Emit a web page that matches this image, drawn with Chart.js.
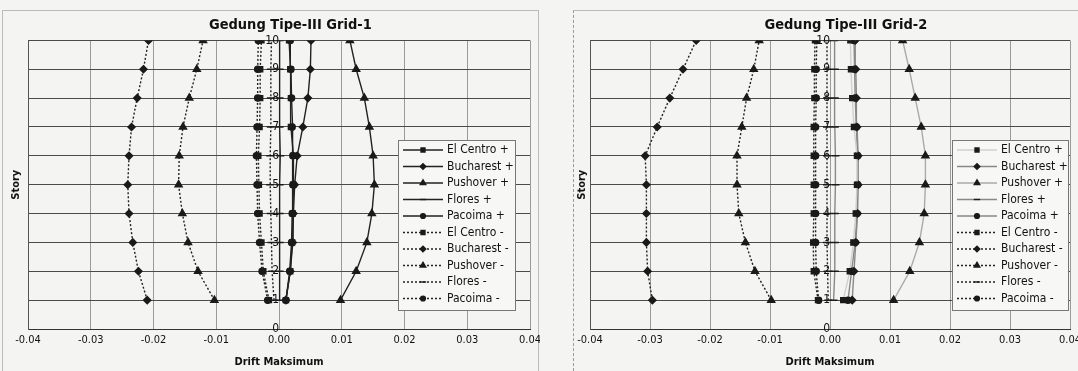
<!DOCTYPE html>
<html>
<head>
<meta charset="utf-8">
<script src="https://cdn.jsdelivr.net/npm/chart.js@4.4.1/dist/chart.umd.min.js"></script>
<style>
  body { margin: 0; width: 1078px; height: 371px; overflow: hidden; position: relative; background: #f4f4f2; }
  .panel { position: absolute; top: 0; }
  .frame { position: absolute; }
</style>
</head>
<body>
<div class="frame" style="left:2px;top:10px;width:535px;height:360px;border:1px solid #bbb"></div>
<div class="frame" style="left:573px;top:10px;width:520px;height:360px;border-left:1px dashed #999;border-top:1px solid #bbb"></div>
<div class="panel" style="left:0"><canvas id="grid1" width="540" height="371"></canvas></div>
<div class="panel" style="left:540px"><canvas id="grid2" width="538" height="371"></canvas></div>
<script>
// lantai (story) 1..10
const stories = [1, 2, 3, 4, 5, 6, 7, 8, 9, 10];
const driftTicks = [-0.04, -0.03, -0.02, -0.01, 0, 0.01, 0.02, 0.03, 0.04];
const seriesNames = ['El Centro +', 'Bucharest +', 'Pushover +', 'Flores +', 'Pacoima +',
                     'El Centro -', 'Bucharest -', 'Pushover -', 'Flores -', 'Pacoima -'];

// Grid-1
const g1ElCentroPos  = [0.0011, 0.0018, 0.0021, 0.0022, 0.0023, 0.0023, 0.0019, 0.0019, 0.0018, 0.0016];
const g1BucharestPos = [0.0011, 0.0018, 0.0022, 0.0023, 0.0025, 0.0029, 0.0038, 0.0046, 0.0050, 0.0051];
const g1PushoverPos  = [0.0098, 0.0123, 0.0140, 0.0148, 0.0152, 0.0150, 0.0144, 0.0136, 0.0123, 0.0113];
const g1FloresPos    = [0.0000, 0.0001, 0.0001, 0.0001, 0.0001, 0.0002, 0.0001, 0.0001, 0.0001, 0.0001];
const g1PacoimaPos   = [0.0011, 0.0017, 0.0020, 0.0021, 0.0022, 0.0022, 0.0021, 0.0020, 0.0019, 0.0018];
const g1ElCentroNeg  = [-0.0016, -0.0025, -0.0028, -0.0031, -0.0032, -0.0033, -0.0031, -0.0030, -0.0030, -0.0028];
const g1BucharestNeg = [-0.0210, -0.0224, -0.0233, -0.0239, -0.0241, -0.0239, -0.0235, -0.0226, -0.0216, -0.0208];
const g1PushoverNeg  = [-0.0103, -0.0129, -0.0145, -0.0154, -0.0160, -0.0159, -0.0153, -0.0143, -0.0131, -0.0121];
const g1FloresNeg    = [-0.0008, -0.0011, -0.0012, -0.0013, -0.0014, -0.0014, -0.0013, -0.0013, -0.0013, -0.0012];
const g1PacoimaNeg   = [-0.0018, -0.0027, -0.0031, -0.0034, -0.0035, -0.0036, -0.0035, -0.0034, -0.0034, -0.0033];

// Grid-2
const g2ElCentroPos  = [0.0022, 0.0033, 0.0039, 0.0043, 0.0045, 0.0045, 0.0040, 0.0037, 0.0035, 0.0034];
const g2BucharestPos = [0.0037, 0.0040, 0.0043, 0.0046, 0.0047, 0.0047, 0.0045, 0.0044, 0.0043, 0.0042];
const g2PushoverPos  = [0.0106, 0.0133, 0.0149, 0.0157, 0.0159, 0.0159, 0.0152, 0.0142, 0.0132, 0.0121];
const g2FloresPos    = [0.0006, 0.0008, 0.0008, 0.0008, 0.0009, 0.0009, 0.0008, 0.0008, 0.0008, 0.0007];
const g2PacoimaPos   = [0.0030, 0.0036, 0.0042, 0.0045, 0.0046, 0.0046, 0.0044, 0.0042, 0.0041, 0.0040];
const g2ElCentroNeg  = [-0.0020, -0.0027, -0.0028, -0.0027, -0.0027, -0.0027, -0.0027, -0.0026, -0.0026, -0.0025];
const g2BucharestNeg = [-0.0296, -0.0304, -0.0306, -0.0306, -0.0306, -0.0308, -0.0288, -0.0267, -0.0245, -0.0223];
const g2PushoverNeg  = [-0.0098, -0.0125, -0.0141, -0.0152, -0.0155, -0.0155, -0.0147, -0.0139, -0.0127, -0.0118];
const g2FloresNeg    = [-0.0003, -0.0004, -0.0005, -0.0005, -0.0005, -0.0005, -0.0005, -0.0005, -0.0005, -0.0005];
const g2PacoimaNeg   = [-0.0019, -0.0023, -0.0024, -0.0024, -0.0024, -0.0024, -0.0024, -0.0023, -0.0023, -0.0022];

const FONT = "'Liberation Sans Narrow', 'DejaVu Sans Condensed', 'Arial Narrow', 'Liberation Sans', Arial, sans-serif";
Chart.defaults.font.family = FONT;
Chart.defaults.color = '#111';

const markers = ['rect', 'rectRot', 'triangle', 'line', 'circle'];
const markerSize = [3.5, 3.5, 4, 4, 3];

function toPoints(vals) {
    return stories.map((s, i) => ({ x: vals[i], y: s }));
}

function makeDatasets(values, posLineColors) {
    return values.map((vals, i) => {
        const neg = i >= 5;
        const k = i % 5;
        return {
            label: seriesNames[i],
            data: toPoints(vals),
            showLine: true,
            borderColor: neg ? '#222' : posLineColors[k],
            borderWidth: 1.4,
            borderDash: neg ? [2, 2] : [],
            pointStyle: markers[k],
            pointRadius: markerSize[k],
            pointBorderWidth: 1.5,
            pointBackgroundColor: '#1a1a1a',
            pointBorderColor: '#1a1a1a'
        };
    });
}

// legenda di dalam area plot
const boxLegend = {
    id: 'boxLegend',
    afterDraw(chart, args, o) {
        const ctx = chart.ctx;
        ctx.save();
        ctx.fillStyle = '#f7f7f5';
        ctx.fillRect(o.x, o.y, o.w, o.h);
        ctx.strokeStyle = '#777';
        ctx.lineWidth = 1;
        ctx.strokeRect(o.x + 0.5, o.y + 0.5, o.w, o.h);
        ctx.font = '12px ' + FONT;
        ctx.textBaseline = 'middle';
        chart.data.datasets.forEach((ds, i) => {
            const cy = o.y + o.top + i * o.row;
            ctx.strokeStyle = ds.borderColor;
            ctx.lineWidth = ds.borderWidth;
            ctx.setLineDash(ds.borderDash);
            ctx.beginPath();
            ctx.moveTo(o.x + 5, cy);
            ctx.lineTo(o.x + 45, cy);
            ctx.stroke();
            ctx.setLineDash([]);
            ctx.fillStyle = ds.pointBackgroundColor;
            ctx.strokeStyle = ds.pointBorderColor;
            Chart.helpers.drawPoint(ctx, {
                pointStyle: ds.pointStyle, radius: ds.pointRadius * 0.8,
                borderWidth: ds.pointBorderWidth, rotation: 0
            }, o.x + 25, cy);
            ctx.fillStyle = '#111';
            ctx.fillText(ds.label, o.x + 49, cy);
        });
        ctx.restore();
    }
};

function makeChart(id, title, values, posLineColors, padLeft, yWidth, padRight, legendBox) {
    return new Chart(document.getElementById(id), {
        type: 'scatter',
        data: { datasets: makeDatasets(values, posLineColors) },
        plugins: [boxLegend],
        options: {
            responsive: false,
            animation: false,
            layout: { padding: { top: 14, left: padLeft, right: padRight, bottom: 2 } },
            plugins: {
                legend: { display: false },
                tooltip: { enabled: false },
                title: {
                    display: true, text: title, fullSize: false,
                    font: { size: 14.5, weight: 'bold' }, padding: { top: 3, bottom: 6 }
                },
                boxLegend: legendBox
            },
            scales: {
                x: {
                    type: 'linear', min: -0.04, max: 0.04,
                    afterBuildTicks: s => { s.ticks = driftTicks.map(v => ({ value: v })); },
                    ticks: {
                        callback: v => (Math.abs(v) < 1e-9 ? 0 : v).toFixed(2),
                        font: { size: 11 }, padding: 5, maxRotation: 0
                    },
                    grid: { color: '#9a9a9a', drawTicks: false },
                    border: { color: '#333' },
                    title: { display: true, text: 'Drift Maksimum', font: { size: 11, weight: 'bold' }, padding: { top: 2, bottom: 0 } },
                    afterFit: s => { s.height = 40; s.paddingLeft = 0; s.paddingRight = 0; }
                },
                y: {
                    type: 'linear', min: 0, max: 10,
                    ticks: { display: false, stepSize: 1 },
                    grid: { color: '#4a4a4a', drawTicks: false },
                    border: { color: '#555' },
                    title: { display: true, text: 'Story', font: { size: 11, weight: 'bold' }, padding: 2 },
                    afterFit: s => { s.width = yWidth; }
                },
                ys: {
                    type: 'linear', position: { x: 0 }, min: 0, max: 10,
                    ticks: { stepSize: 1, font: { size: 12 }, padding: 2 },
                    grid: { display: false },
                    border: { display: false }
                }
            }
        }
    });
}

// spasi di depan judul menggeser judul sedikit ke kanan seperti di gambar asli
makeChart('grid1', '     Gedung Tipe-III Grid-1',
    [g1ElCentroPos, g1BucharestPos, g1PushoverPos, g1FloresPos, g1PacoimaPos,
     g1ElCentroNeg, g1BucharestNeg, g1PushoverNeg, g1FloresNeg, g1PacoimaNeg],
    ['#222', '#222', '#222', '#222', '#222'],
    8, 20, 10,
    { x: 398, y: 140, w: 117, h: 170, top: 10, row: 16.5 });

makeChart('grid2', '       Gedung Tipe-III Grid-2',
    [g2ElCentroPos, g2BucharestPos, g2PushoverPos, g2FloresPos, g2PacoimaPos,
     g2ElCentroNeg, g2BucharestNeg, g2PushoverNeg, g2FloresNeg, g2PacoimaNeg],
    ['#d0d0d0', '#888', '#aaa', '#888', '#888'],
    34, 16, 8,
    { x: 412, y: 140, w: 116, h: 170, top: 10, row: 16.5 });
</script>
</body>
</html>
